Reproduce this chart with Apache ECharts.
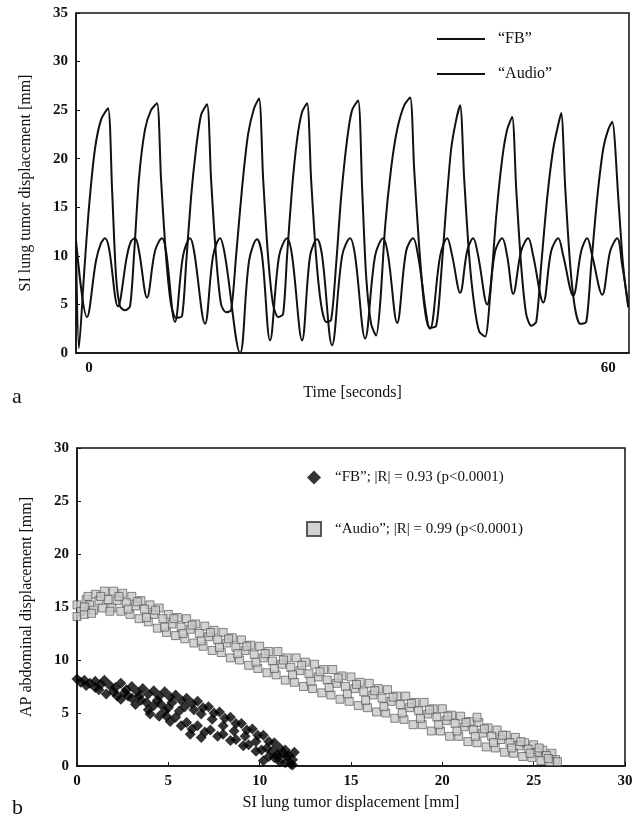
<html>
<head>
<meta http-equiv="content-type" content="text/html; charset=utf-8">
<script src="https://cdn.jsdelivr.net/npm/echarts@6/dist/echarts.min.js"></script>
<style>
	html, body { margin: 0; padding: 0; background: #ffffff; }
	#chart { width: 641px; height: 824px; }
</style>
<title>SI tumor motion, FB vs Audio</title>
</head>
<body>
<div id="chart"></div>
<script type="text/javascript">
///////////////////////////////////////////////////////////////////////////////
// data

// panel a: time [s], SI displacement [mm]
var fb_trace = [
	[-1.50,11.6],[-0.23,3.7],[0.81,9.5],[1.39,11.3],[1.85,11.8],[2.31,10.8],[3.35,4.8],
	[4.39,10.0],[4.86,11.5],[5.32,11.8],[5.78,10.5],[6.71,5.7],[7.63,10.5],[8.44,11.8],
	[8.90,10.5],[9.94,3.2],[10.87,10.0],[11.68,11.8],[12.14,10.5],[13.41,3.0],[14.34,10.0],
	[15.14,11.8],[15.72,10.0],[17.46,0.0],[18.50,9.5],[19.42,11.7],[20.00,10.0],[20.92,1.3],
	[21.97,10.0],[22.89,11.8],[23.47,10.0],[24.62,1.3],[25.55,10.0],[26.36,11.7],[26.94,10.0],
	[28.09,0.8],[29.25,10.0],[30.17,11.8],[30.75,10.0],[31.91,1.5],[33.06,10.0],[33.99,11.8],
	[34.57,10.0],[35.61,3.1],[36.65,10.5],[37.46,11.8],[38.03,10.0],[39.42,2.5],[40.58,10.0],
	[41.39,11.8],[41.97,10.0],[42.89,6.2],[43.70,10.5],[44.39,11.8],[44.97,10.0],[46.01,5.0],
	[46.94,10.5],[47.75,11.8],[48.32,10.0],[49.02,6.1],[49.94,10.5],[50.75,11.8],[51.33,10.0],
	[52.49,5.2],[53.41,10.5],[54.22,11.8],[54.80,10.0],[55.95,5.9],[56.88,10.5],[57.57,11.8],
	[58.15,10.0],[59.31,6.0],[60.23,10.5],[61.04,11.8],[61.62,9.0],[62.31,5.0]
];
var audio_trace = [
	[-1.50,11.0],[-1.16,0.5],[-0.58,8.0],[0.00,15.0],[0.69,21.0],[1.39,24.0],[2.20,25.2],
	[2.66,17.0],[3.12,8.0],[3.58,4.8],[4.16,4.4],[4.74,4.8],[5.20,10.0],[5.78,18.0],[6.47,23.0],
	[7.17,25.0],[7.86,25.7],[8.32,18.0],[8.90,10.0],[9.48,5.0],[10.06,3.6],[10.75,3.8],
	[11.21,9.0],[11.79,16.0],[12.37,21.0],[12.95,24.5],[13.64,25.6],[14.10,18.0],[14.68,10.0],
	[15.26,5.0],[15.84,4.2],[16.42,4.4],[17.00,10.0],[17.69,17.0],[18.38,22.5],[19.08,25.2],
	[19.65,26.2],[20.12,18.0],[20.69,10.0],[21.27,5.0],[21.85,3.7],[22.43,4.0],[22.89,10.0],
	[23.47,17.0],[24.05,22.0],[24.62,24.8],[25.20,25.7],[25.66,18.0],[26.24,10.0],[26.82,5.0],
	[27.40,3.2],[27.98,3.4],[28.55,9.0],[29.13,16.0],[29.83,22.0],[30.40,25.0],[31.10,26.0],
	[31.56,17.0],[32.02,8.0],[32.60,3.0],[33.18,1.8],[33.64,5.0],[34.22,13.0],[34.91,19.0],
	[35.61,23.0],[36.42,25.5],[37.11,26.3],[37.57,19.0],[38.15,11.0],[38.73,5.0],[39.31,2.6],
	[40.12,2.8],[40.69,8.0],[41.27,15.0],[41.85,21.0],[42.43,24.0],[42.89,25.5],[43.35,18.0],
	[43.93,10.0],[44.51,5.0],[45.09,2.2],[45.78,1.7],[46.36,6.0],[47.05,14.0],[47.75,20.0],
	[48.32,23.0],[48.90,24.3],[49.36,17.0],[49.94,9.0],[50.52,4.0],[51.10,2.8],[51.68,3.2],
	[52.25,9.0],[52.95,16.0],[53.64,21.0],[54.22,23.5],[54.57,24.7],[55.03,17.0],[55.61,9.0],
	[56.18,4.5],[56.76,3.0],[57.46,3.2],[58.03,9.0],[58.73,16.0],[59.42,21.0],[60.00,23.0],
	[60.46,23.8],[61.16,16.0],[61.62,10.0],[61.97,7.0],[62.31,4.7]
];

// panel b: SI tumor [mm], AP abdominal [mm]
var fb_scatter = [
	// upper arm
	[0.0,8.2],[0.2,7.9],[0.4,8.1],[0.7,7.8],[1.0,8.0],[1.3,7.7],[1.5,8.1],[1.8,7.6],[2.1,7.4],
	[2.4,7.8],[2.7,7.2],[3.0,7.5],[3.3,7.0],[3.6,7.3],[3.9,6.8],[4.2,7.1],[4.5,6.6],[4.8,7.0],
	[5.1,6.5],[5.4,6.7],[5.7,6.2],[6.0,6.4],[6.3,5.9],[6.6,6.1],[6.9,5.5],[7.2,5.6],[7.5,5.0],
	[7.8,5.1],[8.1,4.5],[8.4,4.6],[8.7,4.0],[9.0,4.0],[9.3,3.4],[9.6,3.5],[9.9,2.9],[10.2,2.9],
	[10.5,2.3],[10.8,2.2],[11.1,1.7],[11.4,1.5],[11.6,1.0],[11.8,0.6],[11.9,1.3],
	// lower arm
	[1.2,7.2],[1.6,6.8],[2.0,7.0],[2.4,6.3],[2.8,6.6],[3.2,5.8],[3.5,6.2],[3.9,5.3],[4.2,5.7],
	[4.5,4.7],[4.8,5.2],[5.1,4.2],[5.4,4.6],[5.7,3.8],[6.0,4.1],[6.3,3.5],[6.6,3.8],[7.0,3.2],
	[7.3,3.4],[7.7,2.8],[8.0,3.0],[8.4,2.4],[8.7,2.5],[9.1,1.9],[9.4,2.0],[9.8,1.4],[10.1,1.5],
	[10.5,0.9],[10.8,0.8],[11.1,0.4],[11.4,0.3],[11.7,0.2],[11.0,1.1],[10.2,0.5],
	// inside the loop
	[2.2,6.6],[3.0,6.4],[3.8,6.0],[4.6,5.8],[5.0,5.5],[5.6,5.2],[0.5,7.6],[1.0,7.4],
	[2.6,6.9],[3.4,6.6],[4.4,6.2],[5.2,6.0],[5.9,5.6],[6.4,5.3],[4.0,4.9],[4.9,4.7],
	[6.8,4.9],[7.4,4.4],[8.0,3.8],[8.6,3.3],[9.2,2.8],[9.8,2.3],[10.4,1.7],[11.0,0.8],
	[11.5,0.9],[11.8,0.1],[11.3,1.2],[10.7,1.4],[6.2,3.0],[6.8,2.7]
];
var audio_scatter = [
	// upper edge of band
	[0.0,15.2],[0.5,15.7],[1.0,16.2],[1.5,16.5],[2.0,16.5],[2.5,16.3],[3.0,16.0],[3.5,15.6],
	[4.0,15.2],[4.5,14.9],[5.0,14.3],[5.5,14.0],[6.0,13.9],[6.5,13.4],[7.0,13.2],[7.5,12.8],
	[8.0,12.6],[8.5,12.1],[9.0,11.9],[9.5,11.4],[10.0,11.3],[10.5,10.8],[11.0,10.8],[11.5,10.2],
	[12.0,10.2],[12.5,9.8],[13.0,9.6],[13.5,9.1],[14.0,9.1],[14.5,8.5],[15.0,8.4],[15.5,7.9],
	[16.0,7.8],[16.5,7.3],[17.0,7.2],[17.5,6.6],[18.0,6.6],[18.5,6.0],[19.0,6.0],[19.5,5.4],
	[20.0,5.4],[20.5,4.8],[21.0,4.7],[21.5,4.2],[22.0,4.1],[22.5,3.6],[23.0,3.4],[23.5,2.9],
	[24.0,2.7],[24.5,2.2],[25.0,2.0],[25.5,1.5],[26.0,1.2],
	// middle
	[0.2,14.6],[0.7,15.2],[1.2,15.6],[1.7,15.7],[2.2,15.6],[2.7,15.4],[3.2,15.1],[3.7,14.8],
	[4.2,14.3],[4.7,13.9],[5.2,13.4],[5.7,13.1],[6.2,12.9],[6.7,12.5],[7.2,12.2],[7.7,11.9],
	[8.2,11.6],[8.7,11.2],[9.2,10.9],[9.7,10.5],[10.2,10.2],[10.7,9.9],[11.2,9.6],[11.7,9.3],
	[12.2,9.0],[12.7,8.7],[13.2,8.4],[13.7,8.1],[14.2,7.8],[14.7,7.5],[15.2,7.3],[15.7,7.0],
	[16.2,6.7],[16.7,6.4],[17.2,6.1],[17.7,5.8],[18.2,5.5],[18.7,5.2],[19.2,4.9],[19.7,4.6],
	[20.2,4.3],[20.7,4.0],[21.2,3.7],[21.7,3.4],[22.2,3.1],[22.7,2.8],[23.2,2.5],[23.7,2.2],
	[24.2,1.9],[24.7,1.6],[25.2,1.3],[25.7,1.0],[26.2,0.6],
	// lower edge
	[0.0,14.1],[0.4,14.3],[0.9,14.7],[1.4,14.9],[1.9,14.9],[2.4,14.6],[2.9,14.3],[3.4,13.9],
	[3.9,13.6],[4.4,13.0],[4.9,12.6],[5.4,12.3],[5.9,12.0],[6.4,11.6],[6.9,11.3],[7.4,10.9],
	[7.9,10.7],[8.4,10.2],[8.9,10.0],[9.4,9.5],[9.9,9.2],[10.4,8.8],[10.9,8.6],[11.4,8.1],
	[11.9,7.9],[12.4,7.5],[12.9,7.3],[13.4,6.9],[13.9,6.7],[14.4,6.3],[14.9,6.1],[15.4,5.7],
	[15.9,5.5],[16.4,5.1],[16.9,5.0],[17.4,4.5],[17.9,4.4],[18.4,3.9],[18.9,3.9],[19.4,3.3],
	[19.9,3.3],[20.4,2.8],[20.9,2.8],[21.4,2.3],[21.9,2.2],[22.4,1.8],[22.9,1.7],[23.4,1.3],
	[23.9,1.2],[24.4,0.9],[24.9,0.8],[25.4,0.5],[25.9,0.4],[26.3,0.4],
	// between rows
	[0.4,15.0],[1.3,16.0],[2.3,16.0],[3.3,15.5],[4.3,14.7],[5.3,13.9],[6.3,13.3],[7.3,12.6],
	[8.3,12.0],[9.3,11.3],[10.3,10.6],[11.3,10.0],[12.3,9.5],[13.3,8.9],[14.3,8.3],[15.3,7.7],
	[16.3,7.1],[17.3,6.5],[18.3,5.9],[19.3,5.3],[20.3,4.7],[21.3,4.1],[22.3,3.5],[23.3,2.9],
	[24.3,2.3],[25.3,1.7],
	[0.8,14.4],[1.8,14.6],[2.8,14.8],[3.8,14.0],[4.8,13.1],[5.8,12.5],[6.8,11.8],[7.8,11.2],
	[8.8,10.6],[9.8,9.8],[10.8,9.2],[11.8,8.6],[12.8,8.0],[13.8,7.4],[14.8,6.8],[15.8,6.2],
	[16.8,5.6],[17.8,5.0],[18.8,4.5],[19.8,3.9],[20.8,3.3],[21.8,2.8],[22.8,2.2],[23.8,1.7],
	[24.8,1.2],[25.8,0.7],
	// stray points
	[21.9,4.6],[0.6,16.0]
];

var time_ticks = [0, 60];
var name_fb = '\u201cFB\u201d';
var name_audio = '\u201cAudio\u201d';
var legend_fb = '\u201cFB\u201d; |R| = 0.93 (p<0.0001)';
var legend_audio = '\u201cAudio\u201d; |R| = 0.99 (p<0.0001)';

///////////////////////////////////////////////////////////////////////////////
var serif = 'Liberation Serif';
var ink = '#111111';

function axis_common() {
	return {
		axisLine: { show: true, onZero: false, lineStyle: { color: ink, width: 1.5 } },
		axisTick: { show: true, inside: true, length: 4, lineStyle: { color: ink } },
		axisLabel: { color: ink, fontFamily: serif, fontSize: 15, fontWeight: 'bold', margin: 8 },
		splitLine: { show: false },
		nameTextStyle: { color: ink, fontFamily: serif, fontSize: 16 },
		nameLocation: 'middle'
	};
}

function merge(a, b) {
	for (var k in b) a[k] = b[k];
	return a;
}

var chart = echarts.init(document.getElementById('chart'), null, { renderer: 'canvas' });

var option = {
	backgroundColor: '#ffffff',
	animation: false,
	grid: [
		{ left: 76, top: 13, width: 553, height: 340, show: true, borderColor: ink, borderWidth: 1.5 },
		{ left: 77, top: 448, width: 548, height: 318, show: true, borderColor: ink, borderWidth: 1.5 }
	],
	xAxis: [
		merge(axis_common(), {
			gridIndex: 0, type: 'value', min: -1.5, max: 62.4,
			name: 'Time [seconds]', nameGap: 32,
			axisTick: { show: false },
			axisLabel: { customValues: time_ticks, color: ink, fontFamily: serif, fontSize: 15, fontWeight: 'bold', margin: 8 }
		}),
		merge(axis_common(), {
			gridIndex: 1, type: 'value', min: 0, max: 30, interval: 5,
			name: 'SI lung tumor displacement [mm]', nameGap: 29
		})
	],
	yAxis: [
		merge(axis_common(), {
			gridIndex: 0, type: 'value', min: 0, max: 35, interval: 5,
			name: 'SI lung tumor displacement [mm]', nameGap: 42
		}),
		merge(axis_common(), {
			gridIndex: 1, type: 'value', min: 0, max: 30, interval: 5,
			name: 'AP abdominal displacement [mm]', nameGap: 42
		})
	],
	legend: [
		{
			data: [
				{ name: name_fb, icon: 'rect' },
				{ name: name_audio, icon: 'rect' }
			],
			orient: 'vertical', left: 437, top: 31, padding: 0,
			itemWidth: 48, itemHeight: 2, itemGap: 19,
			itemStyle: { color: ink },
			textStyle: { color: ink, fontFamily: serif, fontSize: 16, padding: [0, 0, 0, 8] }
		},
		{
			data: [legend_fb, legend_audio],
			orient: 'vertical', left: 306, top: 470, padding: 0,
			itemWidth: 14, itemHeight: 14, itemGap: 36,
			textStyle: { color: ink, fontFamily: serif, fontSize: 15, padding: [0, 0, 0, 9] }
		}
	],
	graphic: [
		{ type: 'text', left: 12, top: 386, style: { text: 'a', font: '22px "Liberation Serif"', fill: ink } },
		{ type: 'text', left: 12, top: 797, style: { text: 'b', font: '22px "Liberation Serif"', fill: ink } }
	],
	series: [
		{
			name: name_fb, type: 'line', xAxisIndex: 0, yAxisIndex: 0,
			data: fb_trace, symbol: 'none', smooth: 0.35,
			lineStyle: { color: ink, width: 2 }, itemStyle: { color: ink }
		},
		{
			name: name_audio, type: 'line', xAxisIndex: 0, yAxisIndex: 0,
			data: audio_trace, symbol: 'none', smooth: 0.25,
			lineStyle: { color: ink, width: 2 }, itemStyle: { color: ink }
		},
		{
			name: legend_audio, type: 'scatter', xAxisIndex: 1, yAxisIndex: 1,
			data: audio_scatter, symbol: 'rect', symbolSize: 8,
			itemStyle: { color: '#c8c8c8', borderColor: '#333333', borderWidth: 0.7 }
		},
		{
			name: legend_fb, type: 'scatter', xAxisIndex: 1, yAxisIndex: 1,
			data: fb_scatter, symbol: 'diamond', symbolSize: 11,
			itemStyle: { color: '#000000' }
		}
	]
};

chart.setOption(option);
</script>
</body>
</html>
